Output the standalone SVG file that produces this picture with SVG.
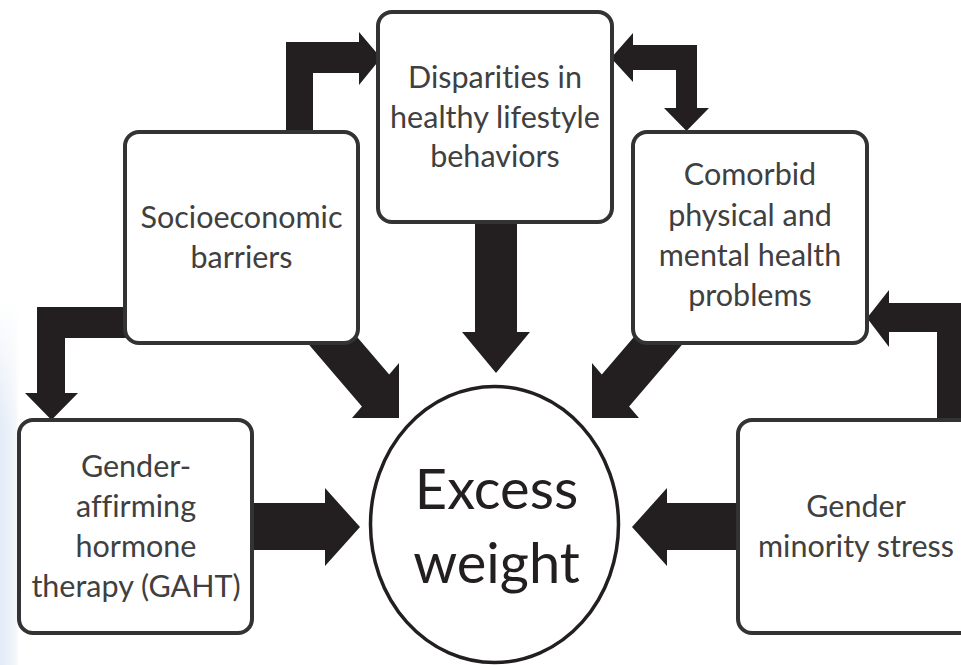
<svg xmlns="http://www.w3.org/2000/svg" width="961" height="665" viewBox="0 0 961 665">
<defs>
<linearGradient id="tint" x1="0" y1="0" x2="1" y2="0">
<stop offset="0" stop-color="#e3ebf7"/>
<stop offset="0.8" stop-color="#f3f6fb"/>
<stop offset="1" stop-color="#ffffff" stop-opacity="0"/>
</linearGradient>
<linearGradient id="tintV" x1="0" y1="0" x2="0" y2="1">
<stop offset="0" stop-color="#ffffff" stop-opacity="1"/>
<stop offset="0.35" stop-color="#ffffff" stop-opacity="0"/>
</linearGradient>
<style>
.box{fill:#ffffff;stroke:#333333;stroke-width:4}
.arr{fill:#231f20}
.lbl{font-family:Lato,"Liberation Sans",sans-serif;font-size:30.5px;fill:#404040;text-anchor:middle;font-variant-ligatures:none;font-feature-settings:"liga" 0,"clig" 0}
.big{font-family:Lato,"Liberation Sans",sans-serif;font-size:56px;fill:#231f20;text-anchor:middle;font-variant-ligatures:none}
</style>
</defs>
<rect x="0" y="0" width="961" height="665" fill="#ffffff"/>
<rect x="0" y="300" width="20" height="365" fill="url(#tint)"/>
<rect x="0" y="300" width="20" height="365" fill="url(#tintV)"/>

<g id="connectors">
<polygon class="arr" points="286,140 286,42 359,42 359,32 381,58 359,85 359,73 313,73 313,140"/>
<polygon class="arr" points="130,307 37,307 37,393 25,393 51.5,420 78,393 65,393 65,338 130,338"/>
<polygon class="arr" points="611,58 633,33 633,45 697,45 697,108 709,108 686.5,131 664,108 676,108 676,70 633,70 633,82"/>
<polygon class="arr" points="475,215 475,332 462,332 496,373 530,332 517,332 517,215"/>
<polygon class="arr" points="399,418 399,363 389.2,374.5 317.7,290.9 290.4,322.9 361.9,406.5 352,418"/>
<polygon class="arr" points="592,418 592,363 601.8,374.5 673.3,290.9 700.6,322.9 629.1,406.5 639,418"/>
<polygon class="arr" points="240,503 325,503 325,488 360,527 325,566 325,550 240,550"/>
<polygon class="arr" points="750,503 667,503 667,488 632,527 667,566 667,550 750,550"/>
<polygon class="arr" points="867,318 889,290 889,303 966,303 966,430 937,430 937,332 889,332 889,347"/>
</g>

<g id="node-socioeconomic">
<rect class="box" x="125" y="132" width="233" height="211" rx="14"/>
<text class="lbl" x="241.5" y="228">Socioeconomic</text>
<text class="lbl" x="241.5" y="268">barriers</text>
</g>

<g id="node-disparities">
<rect class="box" x="378" y="12" width="234" height="210" rx="14"/>
<text class="lbl" x="495" y="88">Disparities in</text>
<text class="lbl" x="495" y="128">healthy lifestyle</text>
<text class="lbl" x="495" y="167">behaviors</text>
</g>

<g id="node-comorbid">
<rect class="box" x="633" y="132" width="234" height="211" rx="14"/>
<text class="lbl" x="750" y="185">Comorbid</text>
<text class="lbl" x="750" y="226">physical and</text>
<text class="lbl" x="750" y="266">mental health</text>
<text class="lbl" x="750" y="306">problems</text>
</g>

<g id="node-gaht">
<rect class="box" x="19" y="420" width="233" height="213" rx="14"/>
<text class="lbl" x="136" y="477">Gender-</text>
<text class="lbl" x="136" y="517">affirming</text>
<text class="lbl" x="136" y="557">hormone</text>
<text class="lbl" x="136" y="597">therapy (GAHT)</text>
</g>

<g id="node-minority">
<rect class="box" x="738" y="420" width="236" height="213" rx="14"/>
<text class="lbl" x="856" y="517">Gender</text>
<text class="lbl" x="856" y="557">minority stress</text>
</g>

<g id="node-excess">
<ellipse cx="494.5" cy="524.5" rx="124" ry="138" fill="#ffffff" stroke="#231f20" stroke-width="3.5"/>
<text class="big" x="496.5" y="509">Excess</text>
<text class="big" x="496.5" y="583">weight</text>
</g>
</svg>
